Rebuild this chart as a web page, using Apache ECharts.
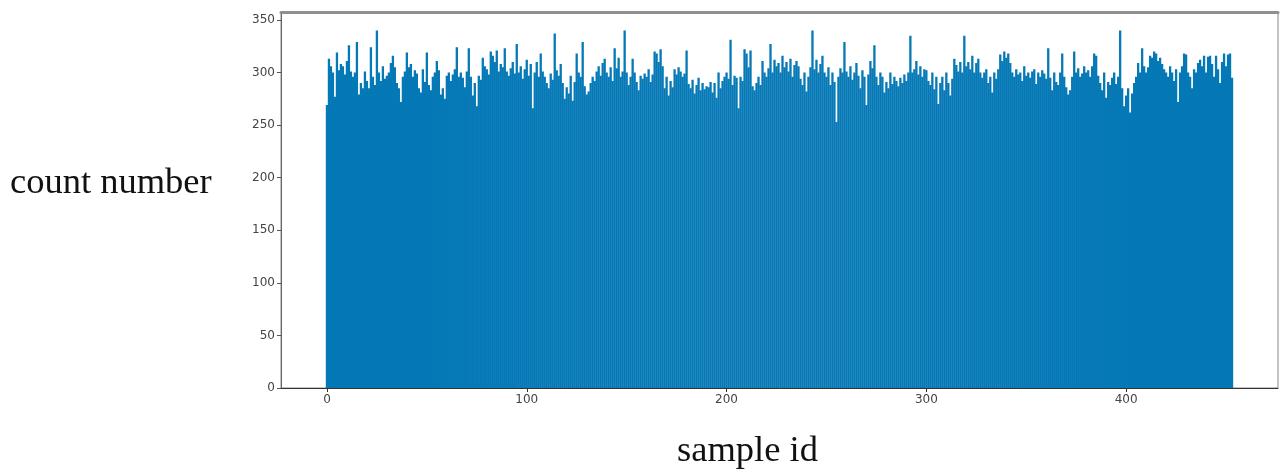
<!DOCTYPE html>
<html>
<head>
<meta charset="utf-8">
<script src="https://cdn.jsdelivr.net/npm/echarts@6/dist/echarts.min.js"></script>
<style>html,body{margin:0;padding:0;background:#fff}#c{width:1281px;height:470px}</style>
</head>
<body>
<div id="c"></div>
<script>
// count number per sample id (ids 0..453)
const counts = [
269,313,306,300,277,319,302,308,306,298,311,326,301,296,300,329,279,290,285,301,
292,285,324,296,288,340,300,292,306,294,297,300,309,316,305,290,285,272,296,301,
319,305,308,296,302,299,285,281,303,291,319,288,283,296,300,311,302,279,285,275,
297,300,292,298,303,324,296,300,295,286,301,323,296,278,290,268,297,293,314,306,
303,298,320,316,310,321,301,308,305,323,301,297,304,310,299,327,300,306,294,303,
312,297,308,266,300,310,296,318,301,296,290,285,299,293,337,302,297,308,290,275,
286,280,297,273,291,318,300,296,329,287,279,282,290,296,292,301,306,297,309,313,
300,296,305,292,323,304,314,296,301,340,300,288,296,313,300,291,283,297,294,299,
296,303,291,298,320,318,310,322,306,285,296,278,292,286,303,298,305,301,296,299,
321,289,285,293,280,288,295,283,290,284,287,286,291,281,290,276,300,285,292,296,
300,294,331,288,297,295,266,296,292,322,318,305,321,287,283,290,296,288,311,300,
296,304,327,300,312,306,309,300,316,305,310,301,313,296,307,311,306,294,288,300,
282,296,305,340,303,312,300,308,316,300,296,305,288,300,291,253,296,304,300,329,
301,296,306,293,300,309,297,285,302,296,269,298,311,304,326,296,288,300,296,281,
291,285,300,289,296,292,287,295,290,298,292,300,335,300,303,311,298,306,296,303,
302,292,288,300,284,296,270,290,296,283,300,290,278,294,313,307,301,310,300,335,
306,310,303,316,300,309,313,300,295,300,303,290,296,281,300,294,303,317,311,320,
314,318,309,300,296,303,298,300,292,306,297,300,295,301,303,289,300,296,302,299,
294,323,295,283,300,291,288,300,318,296,286,279,283,296,320,300,304,296,299,306,
300,302,296,306,318,316,297,290,283,300,276,291,288,295,300,289,296,340,285,268,
278,285,262,280,290,296,309,300,323,306,300,305,316,314,320,318,311,314,308,303,
300,296,306,300,292,303,272,300,306,318,317,300,296,285,303,300,309,312,306,316,
300,315,316,308,296,316,303,290,310,318,306,317,318,295
];
const xTicks = [0, 100, 200, 300, 400];
const yTicks = [0, 50, 100, 150, 200, 250, 300, 350];
const xTitle = 'sample id';
const yTitle = 'count number';

const chart = echarts.init(document.getElementById('c'), null, {renderer: 'canvas'});
const labelStyle = {color: '#444', fontFamily: 'DejaVu Sans', fontSize: 12};
chart.setOption({
  animation: false,
  grid: {left: 281, right: 3, top: 12, bottom: 82, show: true, borderColor: '#888', borderWidth: 1, backgroundColor: 'transparent'},
  xAxis: [{
    type: 'value', min: -23, max: 476,
    splitLine: {show: false},
    axisLine: {show: true, onZero: false, lineStyle: {color: '#333', width: 1}},
    axisTick: {show: true, length: 4, lineStyle: {color: '#333'}, customValues: xTicks},
    axisLabel: Object.assign({margin: 6, customValues: xTicks}, labelStyle)
  }, {
    type: 'value', min: -23, max: 476, position: 'top',
    splitLine: {show: false},
    axisLine: {show: true, onZero: false, lineStyle: {color: '#8f8f8f', width: 3}},
    axisTick: {show: false}, axisLabel: {show: false}
  }],
  yAxis: {
    type: 'value', min: 0, max: 357.5,
    splitLine: {show: false},
    axisLine: {show: true, onZero: false, lineStyle: {color: '#666', width: 1}},
    axisTick: {show: true, length: 4, lineStyle: {color: '#555'}, customValues: yTicks},
    axisLabel: Object.assign({margin: 6, customValues: yTicks}, labelStyle)
  },
  series: [{
    type: 'bar',
    xAxisIndex: 0,
    data: counts.map((v, i) => [i, v]),
    barWidth: 2.3,
    itemStyle: {color: '#0578b6'}
  }],
  graphic: [
    {type: 'text', left: 10, top: 165, style: {text: yTitle, font: '36.5px "Liberation Serif"', fill: '#111'}},
    {type: 'text', left: 677, top: 433, style: {text: xTitle, font: '36.5px "Liberation Serif"', fill: '#111'}}
  ]
});
</script>
</body>
</html>
